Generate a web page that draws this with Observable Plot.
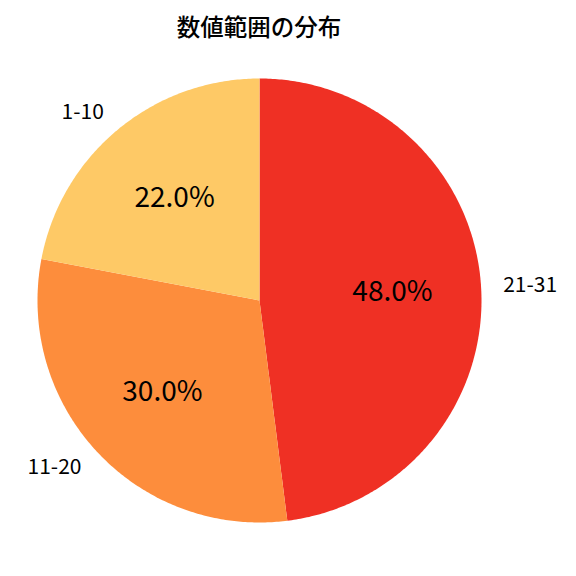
<!DOCTYPE html>
<html>
<head>
<meta charset="utf-8">
<script src="https://cdn.jsdelivr.net/npm/d3@7"></script>
<script src="https://cdn.jsdelivr.net/npm/@observablehq/plot@0.6"></script>
<style>
  html, body { margin: 0; padding: 0; background: #fff; }
  #title { height: 56px; line-height: 52px; width: 518px; text-align: center; font-family: "Noto Sans CJK JP", sans-serif; font-size: 23.5px; font-weight: 500; color: #000; }
</style>
</head>
<body>
<div id="title">数値範囲の分布</div>
<div id="chart"></div>
<script>
const categories = ["21-31", "11-20", "1-10"];
const values = [48, 30, 22];
const colors = ["#ef3024", "#fd8d3c", "#fec966"];

const total = d3.sum(values);
const pie = d3.pie().sort(null).value(d => d)(values);

// slice polygons in unit-circle data space (angle 0 at top, clockwise)
const slicePts = [];
pie.forEach((p, i) => {
  slicePts.push({cat: categories[i], x: 0, y: 0});
  const n = Math.max(2, Math.ceil((p.endAngle - p.startAngle) / 0.01));
  for (let k = 0; k <= n; k++) {
    const a = p.startAngle + (p.endAngle - p.startAngle) * k / n;
    slicePts.push({cat: categories[i], x: Math.sin(a), y: Math.cos(a)});
  }
  slicePts.push({cat: categories[i], x: 0, y: 0});
});

const labels = pie.map((p, i) => {
  const a = (p.startAngle + p.endAngle) / 2;
  return {
    cat: categories[i],
    pct: (values[i] / total * 100).toFixed(1) + "%",
    lx: 1.1 * Math.sin(a), ly: 1.1 * Math.cos(a),
    px: 0.6 * Math.sin(a), py: 0.6 * Math.cos(a),
    anchor: Math.sin(a) >= 0 ? "start" : "end"
  };
});

const chart = Plot.plot({
  width: 576,
  height: 520,
  marginLeft: 37,
  marginRight: 95,
  marginTop: 22,
  marginBottom: 54,
  x: {domain: [-1, 1], axis: null},
  y: {domain: [-1, 1], axis: null},
  color: {domain: categories, range: colors},
  style: {fontFamily: "'Noto Sans CJK JP', sans-serif", background: "white"},
  marks: [
    Plot.line(slicePts, {x: "x", y: "y", z: "cat", fill: "cat", stroke: "none", curve: "linear"}),
    Plot.text(labels.filter(d => d.anchor === "start"), {x: "lx", y: "ly", text: "cat", textAnchor: "start", fontSize: 21, fill: "#000"}),
    Plot.text(labels.filter(d => d.anchor === "end"), {x: "lx", y: "ly", text: "cat", textAnchor: "end", fontSize: 21, fill: "#000"}),
    Plot.text(labels, {x: "px", y: "py", text: "pct", fontSize: 28, fill: "#000"})
  ]
});
document.getElementById("chart").appendChild(chart);
</script>
</body>
</html>
